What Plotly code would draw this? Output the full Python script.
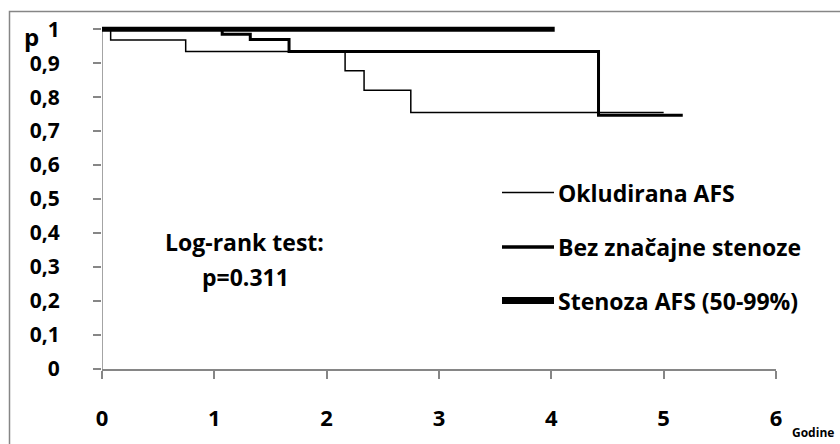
import plotly.graph_objects as go

# Kaplan-Meier survival estimates (time in years, cumulative survival)
okl_t = [0, 0.077, 0.745, 2.164, 2.333, 2.749, 5.0]
okl_p = [1.0, 0.968, 0.934, 0.878, 0.820, 0.755, 0.755]

bez_t = [0, 1.07, 1.32, 1.665, 4.42, 5.17]
bez_p = [1.0, 0.985, 0.970, 0.934, 0.747, 0.747]

sten_t = [0, 4.03]
sten_p = [1.0, 1.0]

series_names = ["Okludirana AFS", "Bez značajne stenoze", "Stenoza AFS (50-99%)"]
series_widths = [1.5, 3, 5]
legend_widths = [1.5, 3.5, 7]

x_ticks = [0, 1, 2, 3, 4, 5, 6]
y_ticks = [0, 0.1, 0.2, 0.3, 0.4, 0.5, 0.6, 0.7, 0.8, 0.9, 1]
y_tick_text = ["0", "0,1", "0,2", "0,3", "0,4", "0,5", "0,6", "0,7", "0,8", "0,9", "1"]

W, H = 840, 444
L, R, T, B = 102, 64, 19, 72
PW, PH = W - L - R, H - T - B
Y_MAX = 1.03
FONT = "Open Sans"
GRAY = "#868686"


def px(x):
    return (x - L) / PW


def py(y):
    return (H - B - y) / PH


fig = go.Figure()
for t, p, name, w in zip([okl_t, bez_t, sten_t], [okl_p, bez_p, sten_p],
                         series_names, series_widths):
    fig.add_trace(go.Scatter(x=t, y=p, mode="lines", name=name,
                             line=dict(color="black", width=w, shape="hv"),
                             showlegend=False, hoverinfo="skip"))

shapes = [
    # outer chart border
    dict(type="rect", xref="paper", yref="paper", x0=px(9.5), x1=px(900),
         y0=py(520), y1=py(11.5), line=dict(color=GRAY, width=1.5), layer="below"),
    # vertical axis line
    dict(type="line", xref="x", yref="y", x0=0, x1=0, y0=0, y1=1,
         line=dict(color=GRAY, width=1.5), layer="below"),
]

annotations = []
legend_rows = [194, 249, 303]
for name, w, yy in zip(series_names, legend_widths, legend_rows):
    shapes.append(dict(type="line", xref="paper", yref="paper",
                       x0=px(502), x1=px(554), y0=py(yy), y1=py(yy),
                       line=dict(color="black", width=w)))
    annotations.append(dict(xref="paper", yref="paper", x=px(556), y=py(yy),
                            xanchor="left", yanchor="middle", showarrow=False,
                            text="<b>%s</b>" % name,
                            font=dict(family=FONT, size=23, color="black")))

annotations += [
    dict(xref="paper", yref="paper", x=px(244), y=py(244), showarrow=False,
         xanchor="center", yanchor="middle", text="<b>Log-rank test:</b>",
         font=dict(family=FONT, size=23, color="black")),
    dict(xref="paper", yref="paper", x=px(245), y=py(279), showarrow=False,
         xanchor="center", yanchor="middle", text="<b>p=0.311</b>",
         font=dict(family=FONT, size=23, color="black")),
    dict(xref="paper", yref="paper", x=px(31), y=py(37), showarrow=False,
         xanchor="center", yanchor="middle", text="<b>p</b>",
         font=dict(family=FONT, size=24, color="black")),
    dict(xref="paper", yref="paper", x=px(790), y=py(436), showarrow=False,
         xanchor="left", yanchor="middle", text="<b>Godine</b>",
         font=dict(family=FONT, size=12, color="black")),
]

fig.update_layout(
    width=W, height=H,
    margin=dict(l=L, r=R, t=T, b=B, pad=0),
    paper_bgcolor="white", plot_bgcolor="white",
    shapes=shapes, annotations=annotations,
    xaxis=dict(range=[0, 6], tickvals=x_ticks, ticktext=[str(v) for v in x_ticks],
               showgrid=False, zeroline=False, showline=True, linecolor=GRAY,
               linewidth=1.5, ticks="outside", ticklen=8, tickcolor=GRAY,
               tickwidth=1.5, ticklabelstandoff=21,
               tickfont=dict(family=FONT, size=22, color="black", weight="bold")),
    yaxis=dict(range=[0, Y_MAX], tickvals=y_ticks, ticktext=y_tick_text,
               showgrid=False, zeroline=False, showline=False,
               ticks="outside", ticklen=8, tickcolor=GRAY, tickwidth=1.5,
               ticklabelstandoff=29,
               tickfont=dict(family=FONT, size=21, color="black", weight="bold")),
)

fig.write_html("out.html")
